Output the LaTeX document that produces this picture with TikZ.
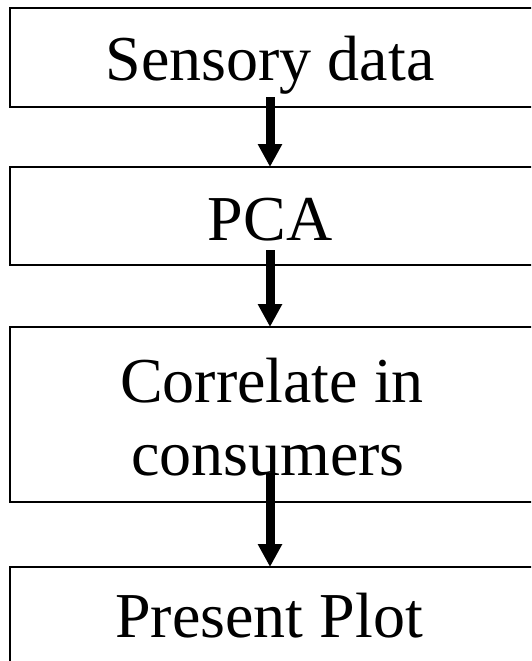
\documentclass[tikz,border=0pt]{standalone}
\usepackage{fontspec}
\setmainfont{Liberation Serif}
\usetikzlibrary{arrows.meta}
\begin{document}
\begin{tikzpicture}[x=1pt,y=-1pt,
  stepbox/.style={draw=black,line width=2pt,rectangle,minimum width=523pt,inner sep=0pt,outer sep=0pt},
  lbl/.style={anchor=base,inner sep=0pt,font=\fontsize{64}{73}\selectfont},
  arr/.style={line width=9pt,-{Triangle[length=23pt,width=23pt]}}]
\useasboundingbox (0,0) rectangle (531,661);
\clip (0,0) rectangle (531,661);
\node[stepbox,minimum height=99pt] (b1) at (271.5,57.5) {};
\node[stepbox,minimum height=98pt] (b2) at (271.5,216) {};
\node[stepbox,minimum height=175pt] (b3) at (271.5,414.5) {};
\node[stepbox,minimum height=133pt] (b4) at (271.5,633.5) {};
\node[lbl] (t1) at (270,81) {Sensory data};
\node[lbl] (t2) at (270,240) {PCA};
\node[lbl] (t3) at (272,402) {Correlate in};
\node[lbl] (t4) at (268,475) {consumers};
\node[lbl] (t5) at (269,637) {Present Plot};
\coordinate (a1) at (270,97);
\coordinate (a2) at (270,250);
\coordinate (a3) at (270,473);
\draw[arr] (a1) -- (a1 |- b2.north);
\draw[arr] (a2) -- (a2 |- b3.north);
\draw[arr] (a3) -- (a3 |- b4.north);
\end{tikzpicture}
\end{document}
